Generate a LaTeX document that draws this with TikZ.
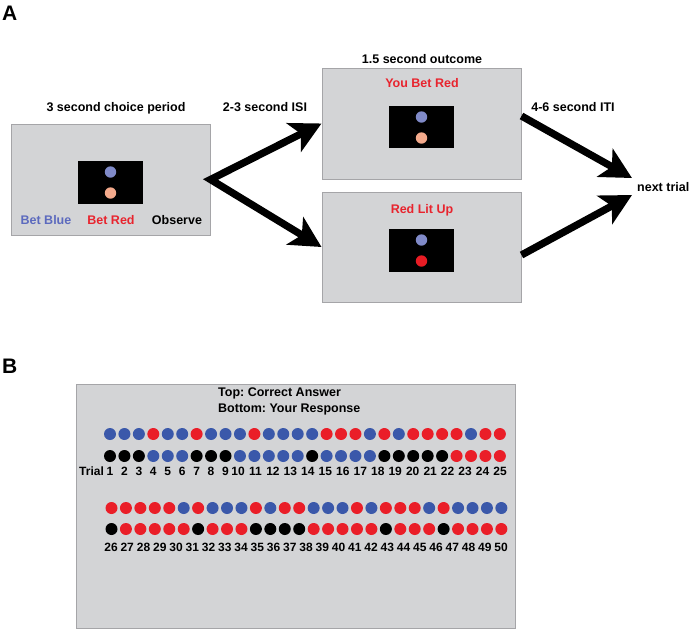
\documentclass[tikz,border=0pt]{standalone}
\usepackage{fontspec}
\setmainfont{Liberation Sans}
\usetikzlibrary{arrows.meta}
\frenchspacing
\definecolor{boxfill}{RGB}{211,212,214}
\definecolor{boxline}{RGB}{165,165,168}
\definecolor{txtred}{RGB}{232,36,46}
\definecolor{txtblue}{RGB}{92,106,190}
\definecolor{scrblue}{RGB}{128,138,200}
\definecolor{scrpeach}{RGB}{244,170,140}
\definecolor{scrred}{RGB}{232,28,36}
\definecolor{dotB}{RGB}{58,88,170}
\definecolor{dotR}{RGB}{234,30,40}
\definecolor{dotK}{RGB}{0,0,0}
\begin{document}
\frenchspacing
\begin{tikzpicture}[x=1pt,y=-1pt,
  panel/.style={draw=boxline, line width=1pt, fill=boxfill, inner sep=0pt},
  screen/.style={fill=black, inner sep=0pt, minimum width=65pt, minimum height=43pt},
  lbl/.style={font=\fontsize{12.5}{14}\selectfont\bfseries\frenchspacing, inner sep=0pt, anchor=base},
  num/.style={font=\fontsize{12}{14}\selectfont\bfseries, inner sep=0pt, anchor=base},
  big/.style={font=\fontsize{21}{24}\selectfont\bfseries, inner sep=0pt, anchor=base west},
  bigtip/.tip={Stealth[length=31pt,width=32pt,inset=8pt]},
  fat/.style={line width=7.3pt, -bigtip}]
\useasboundingbox (0,0) rectangle (690,630);
\fill[white] (0,0) rectangle (690,630);

% ---------- Panel A ----------
\node[big] (labA) at (2,20) {A};

\node[panel, minimum width=199pt, minimum height=111pt] (choice) at (110.5,179.5) {};
\node[screen] (scrC) at (110.5,182.5) {};
\fill[scrblue] (110.5,172) circle[radius=5.7pt];
\fill[scrpeach] (110.5,193) circle[radius=5.7pt];
\node[lbl] (tchoice) at (116,111.5) {3 second choice period};
\node[lbl, text=txtblue] (bblue) at (46,224.5) {Bet Blue};
\node[lbl, text=txtred] (bred) at (111,224.5) {Bet Red};
\node[lbl] (obs) at (177,224.5) {Observe};

\node[panel, minimum width=199pt, minimum height=111pt] (outT) at (421.5,123.5) {};
\node[screen, minimum height=42pt] (scrT) at (421.5,127) {};
\fill[scrblue] (421.5,117) circle[radius=5.7pt];
\fill[scrpeach] (421.5,138) circle[radius=5.7pt];
\node[lbl] (toutc) at (422,63.5) {1.5 second outcome};
\node[lbl, text=txtred] (ybr) at (422,87.5) {You Bet Red};

\node[panel, minimum width=199pt, minimum height=110pt] (outB) at (421.5,247) {};
\node[screen] (scrB) at (421.5,250.5) {};
\fill[scrblue] (421.5,240) circle[radius=5.7pt];
\fill[scrred] (421.5,261) circle[radius=5.7pt];
\node[lbl, text=txtred] (rlu) at (422,213.5) {Red Lit Up};

\node[lbl] (isi) at (265,111.5) {2-3 second ISI};
\node[lbl] (iti) at (573,111.5) {4-6 second ITI};
\node[lbl, anchor=base west] (next) at (637,191.5) {next trial};
\coordinate (nextW) at (632,187);

\draw[line width=7.3pt, line join=miter, bigtip-bigtip]
  (outT.west) -- (choice.east) -- (outB.west);
\draw[fat] ([yshift=7.5pt]outT.east) -- ([yshift=9pt]nextW);
\draw[fat] ([yshift=-8pt]outB.east) -- ([yshift=-8pt]nextW);

% ---------- Panel B ----------
\node[big] (labB) at (2,373) {B};
\node[panel, minimum width=439pt, minimum height=244pt] (PB) at (295.5,506) {};
\node[lbl, anchor=base west] (top) at (218,396.5) {Top: Correct Answer};
\node[lbl, anchor=base west] (bot) at (218,412.5) {Bottom: Your Response};

\foreach \c [count=\i from 0] in {B,B,B,R,B,B,R,B,B,B,R,B,B,B,B,R,R,R,B,R,B,R,R,R,R,B,R,R}
  \fill[dot\c] (110+\i*14.44,434) circle[radius=6pt];
\foreach \c [count=\i from 0] in {K,K,K,B,B,B,K,K,K,B,B,B,B,B,K,B,B,B,B,K,K,K,K,K,R,R,R,R}
  \fill[dot\c] (110+\i*14.44,456) circle[radius=6pt];
\foreach \c [count=\i from 0] in {R,R,R,R,R,B,R,B,B,B,R,B,R,R,B,B,B,R,B,R,R,R,B,R,B,B,B,B}
  \fill[dot\c] (111.5+\i*14.44,508) circle[radius=6pt];
\foreach \c [count=\i from 0] in {K,R,R,R,R,R,K,R,R,R,K,K,K,K,R,R,R,R,R,K,R,R,R,K,R,R,R,R}
  \fill[dot\c] (111.5+\i*14.44,529) circle[radius=6pt];

\node[num, anchor=base west] (trial) at (79,475.3) {Trial};
\foreach \n in {1,...,9}
  \node[num] (t\n) at (110+\n*14.44-14.44,475.3) {\n};
\foreach \n in {10,...,25}
  \node[num] (t\n) at (238+\n*17.47-174.7,475.3) {\n};
\foreach \n in {26,...,50}
  \node[num] (t\n) at (111+\n*16.25-422.5,551.3) {\n};
\end{tikzpicture}
\end{document}
